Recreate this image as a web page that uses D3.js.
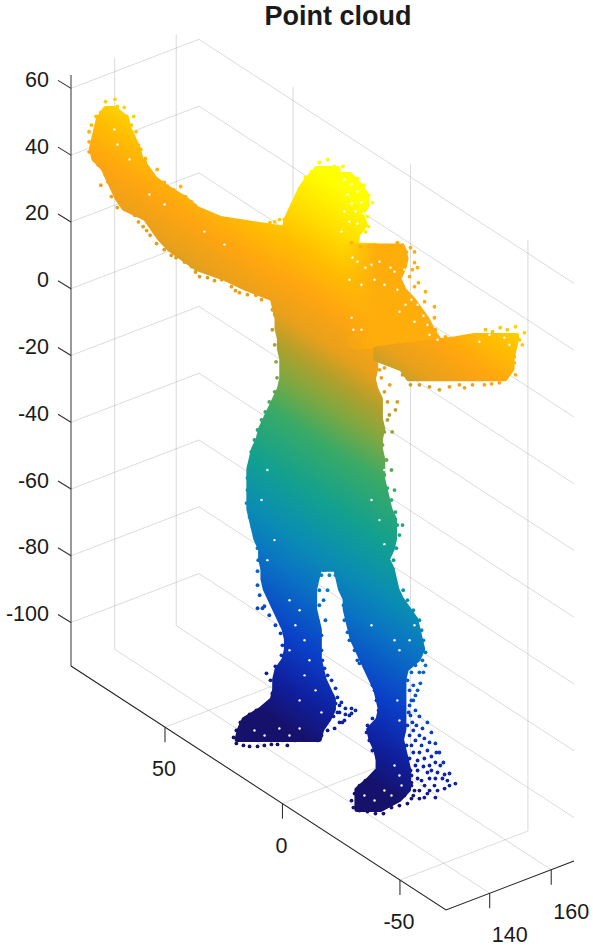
<!DOCTYPE html>
<html><head><meta charset="utf-8">
<script src="https://cdn.jsdelivr.net/npm/d3@7"></script>
<style>html,body{margin:0;background:#fff}svg{display:block}text{font-family:"Liberation Sans",Arial,sans-serif;fill:#1a1a1a}</style>
</head><body><svg id="c" width="593" height="947"></svg>
<script>
// ---------- axis values ----------
const zTicks=[60,40,20,0,-20,-40,-60,-80,-100];
const yTicks=[50,0,-50];
const xTicks=[140,160];
const titleText="Point cloud";
const colorZ=[-113,-100,-85,-66,-54,-38,-20,-8,1,10,22,35,45,60];
const colorHex=["#16116a","#0f1f9e","#0a3fc8","#0a72c4","#0a8cb4","#12a090","#3aaa66","#80a840","#b0a02c","#e8a01c","#ffa510","#ffc000","#ffdc00","#ffff00"];
// ---------- silhouette bands: [z reading, y from, y to] ----------
const leftHandBands=[[54,107,103],[51,110,98],[48,111,97],[45,112,95],[42,113,93],[39,112,92],[36,108,89],[33,106,86]];
const leftArmBands=[[33,106,86],[30,104,80],[27,102,73],[24,99,68],[21,90,58],[18,87,30],[15,84,29],[12,80,29],[9,74,29],[6,68,29],[3,56,29],[0,47,29],[-3,36,29]];
const headBands=[[36,17,8],[33,21,8],[30,24,8],[27,26,8],[24,28,8],[21,30,8],[18,31,8],[15,31,7],[13,31,7]];
const headSideBands=[[34.2,8,3],[31.2,8,-1],[28.2,8,-4],[25.2,8,-4.5],[22.2,8,-2],[19.2,8,-3.6],[16.2,8,-0.2],[13,8,0]];
const torsoBands=[[13,31,-8],[12,31,-8],[9,32,-8],[6,32,-8],[3,32,-8],[0,32,-8],[-3,36,-8],[-6,35,-8],[-9,34,-8],[-12,34,-8],[-15,33,-8],[-18,33,-8],[-21,32,-8],[-24,32,-8],[-27,32,-7],[-30,33,-8],[-33,35,-10],[-36,37,-10],[-39,39,-10],[-42,41,-11],[-45,42,-10],[-48,44,-10],[-51,45,-11],[-54,46,-11],[-57,46,-11],[-60,46,-12],[-63,46,-13],[-66,46,-14],[-69,45,-16],[-72,44,-16],[-75,43,-16],[-78,41,-15],[-81,41,-13],[-84,40,-15]];
const shoulderBands=[[13.5,6,-20],[12,6,-21],[9,6,-22],[6,6,-21],[3,6,-19],[0,6,-21],[-3,6,-25],[-6,6,-28],[-9,6,-31],[-12,6,-33],[-15,6,-36],[-18,6,-42]];
const rightArmBands=[[-14,-50,-68],[-15,-42,-68],[-18,-8,-67],[-21,-8,-66],[-24,-19,-66],[-27,-22,-63]];
const leftLegBands=[[-84,40,16],[-87,40,17],[-90,39,18],[-93,37,18],[-96,35,18],[-99,33,17],[-102,31,16],[-105,30,16],[-108,30,16],[-111,31,16],[-114,34,15],[-117,35,14],[-120,35,12],[-123,36,10],[-126,41,10],[-129,48,12],[-132,50,15],[-135,51,16]];
const rightLegBands=[[-84,9,-15],[-87,8,-16],[-90,7,-17],[-93,5,-19],[-96,5,-22],[-99,4,-25],[-102,3,-26],[-105,2,-27],[-108,0,-28],[-111,-2,-26],[-114,-4,-21],[-117,-6,-20],[-120,-8,-20],[-123,-9,-20],[-126,-10,-20],[-129,-9,-20],[-132,-5,-20],[-135,-6,-19],[-138,-8,-20],[-141,-9,-21],[-144,-9,-22],[-147,-5,-22],[-150,0,-22],[-153,0,-18],[-156,0,-10]];
// ---------- outlying points: [y, z reading] ----------
const leftHandDots=[[107,56],[103,56.7],[102,54.6],[99,54.3],[98,51.6],[95,51.6],[96,49],[94,47],[92,41.7],[90,38],[89,35.7],[85,35.7],[109,52.8],[111,51.6],[113,49],[114,47],[114,44],[114,41],[112,38.7],[107,34],[109,31],[105,54],[110,51],[101,51],[96,45],[93,43],[90,39],[93,40],[110,37],[106,32],[104,30]];
const leftArmDots=[[82,31.8],[80,29.7],[78,29.7],[73,27.6],[70.4,26],[67,23],[64,22],[59,20.7],[54,19.8],[51,18.3],[46.6,18.6],[42,18.6],[37,19.8],[33,20.7],[31,20.7],[75,30.6],[69,25],[61.5,21],[56,19],[49,17.7],[44.5,19],[40,19],[35,20],[104.5,27.6],[102,24.3],[97.6,23.7],[93,20],[91,18.6],[88,16],[84,15.6],[82,11.7],[79,10],[73.4,8],[70.4,6.6],[67,3.6],[63.6,3.3],[57.6,2.7],[53.4,0.6],[50,-1.2],[46.6,-1.8],[43,-2],[36,-6.3],[99.3,25.8],[94.6,22],[89.5,17.4],[85.3,13.5],[77,9.3],[68.7,5],[60.6,2.4],[51.7,-0.6],[40.6,-3.3]];
const headDots=[[12.5,38.7],[16,37.8],[17.6,36],[9.6,36.6],[6,36.6],[4,34],[-0.2,33],[-3,31],[2,30],[-5,28],[-6.6,25.8],[-1.5,27.6],[7,30],[3,26.7],[-0.2,24.6],[-4.5,21.6],[-5,18.6],[-1.5,17],[2,16.8],[6,23.7],[0.6,20.7],[-2.4,19],[2.7,18.6],[4.9,21],[7,17.7],[24,29.7],[26,26.7],[28.3,23],[30,20],[22,33.3],[19.4,35],[5,31.8],[8,33],[3,29],[6,27],[0.6,26],[-3,25],[4,24],[2.4,22],[-1.9,23],[5,19],[0.6,17.7],[-3.7,17],[7.4,15.6],[4,15.3],[6.5,21],[7.4,25]];
const shoulderDots=[[-1.5,12.6],[-5,12.6],[-9.6,12.3],[-11.7,10.8],[-15,9.6],[-19.4,12.6],[-22.8,12.3],[-24.5,11],[-24.5,7.8],[-23.6,5.7],[-22.4,3.6],[-26.2,1.8],[-24.5,0.6],[-29.2,-0.9],[-28.8,-3.9],[-33,-5.4],[-33,-8.7],[-33.4,-12.3],[-37.7,-14.4],[-40.7,-16.2],[-43.6,-16.8],[2.3,13.8],[-17.2,11.7],[-21,11],[-17.2,13.8],[-25.8,6.3]];
const rightArmDots=[[-46.2,-14.7],[-49.2,-14.4],[-54.7,-12.3],[-57.7,-12.9],[-61,-11.7],[-67.5,-11.4],[-71.3,-13.2],[-69.2,-15.3],[-70.4,-16.8],[-67,-20.4],[-67,-22.2],[-67.5,-25.8],[-63.2,-26.4],[-60.6,-28.2],[-49.2,-28.8],[-39.4,-29.4],[-35.1,-30.3],[-30.9,-29.4],[-26.6,-28.8],[-22.8,-28.8],[-19.4,-25.8],[-51.3,-13.8],[-64,-12.3],[-65.8,-13.8],[-43.6,-28.8],[-54.3,-28.8],[-57.3,-28.5],[-45.8,-29.7],[-65.8,-24.3],[-67,-18.3]];
const torsoDots=[[-7.8,-22.8],[-9.6,-24.3],[-11.7,-23.7],[-10.4,-26.7],[-14,-28.8],[-11.7,-30.9],[-13,-33.9],[-17.2,-33.9],[-16.4,-36.3],[-13,-39.3],[-11.7,-42.9],[-10.9,-46.8],[-12.6,-51.3],[-11.7,-55.8],[-13,-59.7],[-14.7,-63.3],[-16.4,-66.9],[-17.2,-70.8],[-18.1,-73.8],[-16.8,-77.7],[-15.6,-81.3],[-14.7,-84.9],[-15,-42.9],[-13.8,-37.8],[-14.7,-54.3],[-16,-60.3],[-19.4,-70.8],[35,-7.8],[36,-12.3],[35,-16.8],[34.4,-21.9],[34,-26.7],[35,-30.9],[37.3,-33.9],[39,-36.9],[40.6,-39.3],[42.3,-42.3],[43.6,-45.3],[45,-48.9],[45.7,-52.8],[46.6,-56.7],[46.6,-60.3],[47,-64.2],[45.7,-68.4],[44.4,-71.4],[43.2,-74.4],[42.3,-77.7],[42,-81.3],[42.3,-84.6]];
const leftLegDots=[[42.3,-88.8],[41.4,-91.8],[40.2,-95.7],[42.3,-95.7],[39.4,-95.1],[37.3,-97.8],[34.7,-100.8],[32.5,-103.2],[31.7,-106.8],[32.1,-109.8],[34.7,-113.1],[38.5,-115.2],[36.8,-117.3],[36,-121.2],[35,-123.3],[38,-125],[42.8,-126.3],[45.7,-127.5],[47.5,-128.7],[49.6,-129.9],[51.3,-132.3],[52.5,-134.4],[51.3,-136.2],[48.3,-136.8],[45.7,-137.1],[42.3,-137.1],[39.4,-136.8],[36.4,-136.5],[33.8,-136.5],[31.7,-135.3],[29.6,-136.8],[26.2,-135.3],[22.7,-134.7],[19.3,-133.8],[16.8,-83.1],[15.1,-85.8],[16,-90.3],[16,-94.8],[16.8,-99.3],[15.1,-103.8],[15.1,-108.3],[14.7,-111.3],[13.8,-113.7],[12.5,-115.8],[10.8,-117.3],[9.1,-119.7],[8.3,-122.4],[7.4,-124.8],[4.9,-125.7],[2.3,-125.7],[0.6,-126.3],[3.2,-127.8],[5.3,-129.3],[7.4,-129.9],[9.5,-131.7],[12.5,-132.3],[15.1,-133.8],[16.8,-135.3],[7.4,-126.9],[10.4,-123.3],[13.8,-84.3],[11.7,-85.8],[12.5,-90.3],[14.2,-93.3],[13.4,-99.3],[7.4,-88.8],[9.1,-85.8],[12.5,-120.3],[10.4,-121.8],[13.4,-123.3],[9.1,-124.2],[11.7,-125.7],[6.6,-123.9],[8.3,-126.9],[4.9,-127.5],[10,-128.1],[12.5,-128.7],[6.2,-129.9],[2.3,-127.2],[13.8,-130.8]];
const rightLegDots=[[7.4,-85.8],[6.6,-90.3],[5.7,-94.8],[5.3,-99.3],[4,-102.9],[3.2,-105.3],[1,-108.3],[-0.2,-111.3],[-1.1,-112.2],[-3.6,-113.7],[-5.8,-116.4],[-6.6,-118.8],[-7.5,-120.3],[-8.3,-123.3],[-9.2,-126.3],[-6.6,-128.7],[-4.5,-130.8],[-4.1,-132.9],[-5.3,-135.3],[-6.6,-138.3],[-8.7,-140.7],[-10,-143.4],[-7.5,-145.2],[-3.6,-147.3],[-1.1,-148.8],[1,-151.2],[2.3,-153.3],[1.5,-155.4],[-1.1,-156.3],[-4.5,-156.6],[-7.9,-157.2],[-11.3,-157.2],[-14.7,-155.4],[-18.1,-154.8],[-21.5,-154.2],[-23.2,-152.7],[-19.7,-90.3],[-21.5,-93.3],[-24,-96.3],[-26.6,-99.3],[-27.5,-102.3],[-28.3,-105.3],[-29.2,-108.9],[-29.2,-112.8],[-28.3,-114.9],[-27,-118.2],[-24.9,-121.8],[-23.2,-123.3],[-22.4,-124.8],[-24.9,-126.3],[-26.6,-128.1],[-30,-129.9],[-31.7,-132.9],[-33.4,-136.2],[-35.1,-138.9],[-36.8,-141.9],[-34.3,-144.9],[-37.3,-145.5],[-39.4,-145.2],[-41.9,-148.2],[-39.4,-148.8],[-37.3,-149.7],[-33.4,-152.4],[-30,-151.2],[-26.6,-152.7],[-24.5,-150.3],[-27.5,-147.3],[-30.9,-146.7],[-23.2,-145.8],[-25.8,-141.3],[-23.2,-136.8],[-27.5,-136.8],[-30,-138.3],[-24,-132.3],[-26.6,-133.8],[-21.5,-130.8],[-22.8,-127.8],[-31.7,-144.3],[-21.5,-150.3],[-23.2,-148.8],[-28.8,-148.8],[-33,-148.8],[-25.8,-144.3],[-22.4,-120.3],[-24,-123.3],[-22,-126.9],[-23.6,-129.9],[-25.3,-130.8],[-27.9,-131.7],[-22.4,-133.8],[-24.9,-135.3],[-21.1,-136.8],[-28.7,-134.7],[-30.9,-135.9],[-26.6,-138.9],[-24,-138.9],[-22.4,-140.7],[-28.7,-140.7],[-31.7,-140.1],[-33.8,-138.9],[-24.9,-142.8],[-28.3,-143.1],[-22.8,-144.3],[-30.9,-142.8],[-33.4,-141.9],[-35.5,-142.8],[-30,-144.9],[-25.8,-146.7],[-23.2,-147.9],[-33.4,-146.7],[-36.4,-146.7],[-38.5,-147.3],[-34.3,-150.3],[-30.9,-150.3],[-26.6,-150.3],[-24,-151.8],[-20.2,-151.8],[-28.7,-152.4],[-21.5,-117.3],[-23.2,-114.9],[-24.9,-112.8],[-26.6,-114.9],[-24,-118.8],[-22.4,-112.2],[-25.8,-109.8],[-27.9,-111.3],[-25.8,-120.3]];
// small white gaps seen inside the cloud: [y, z reading]
const gapDots=[[5.3,32.7],[2.3,31.2],[4,28.2],[-0.2,29.1],[-1.9,25.8],[2.3,25.5],[5.3,23.1],[0.6,23.1],[3.2,20.1],[6.6,17.1],[-0.2,19.5],[-2.8,22.5],[1.9,9.3],[-0.2,8.1],[-3.6,6.3],[-6.2,7.2],[-7.5,2.7],[3.2,2.7],[-1.9,1.2],[-9.6,8.1],[-14.3,6.3],[-16,5.1],[-11.7,1.2],[-17.2,-0.3],[-20.2,5.7],[-23.2,-3.3],[-20.7,-4.8],[-18.1,-6.9],[-25.8,-4.8],[-28.3,-8.1],[-24.5,-9.9],[-30,-10.8],[-30.9,-13.8],[-34.3,-15.3],[2.3,-8.7],[-1.9,-12.3],[1.5,-12.3],[28.7,-93.3],[24.4,-96.3],[26.2,-100.8],[22.3,-105.3],[28.7,-108.3],[20.2,-111.3],[22.3,-115.8],[17.6,-120.3],[24.4,-123.3],[15.1,-126.9],[28.7,-133.8],[24.4,-131.7],[33,-131.7],[39.3,-133.8],[43.6,-132.3],[-6.2,-100.8],[-16,-105.3],[-18.1,-108.3],[-22.4,-105.3],[-24.5,-100.8],[-17.2,-123.3],[-18.1,-129.3],[-16,-142.8],[-18.1,-145.8],[-11.7,-150.3],[-7.5,-153.3],[-3.2,-151.8],[-14.7,-151.8],[-19,-148.8],[40.6,-63.3],[38.1,-54.3],[-11.7,-54.3],[-6.2,-63.3],[-9.6,-69.3],[-11.7,-76.5],[38.1,-81.3],[35.1,-75.3],[88.3,28.2],[81.9,25.2],[64.9,17.1],[56.4,13.2],[96.8,38.7],[103.2,47.7],[101.9,43.2],[-56.4,-13.8],[-52.1,-15.9],[-62.8,-14.7],[-64.9,-16.8]];

// ---------- projection through linear scales ----------
const yDomain=[90,-69.6], xDomain=[125.8,167.4], zDomain=[-113,64];
const yAcross=d3.scaleLinear(yDomain,[0,375]), yDrop=d3.scaleLinear(yDomain,[0,244]);
const xAcross=d3.scaleLinear(xDomain,[0,128]), xDrop=d3.scaleLinear(xDomain,[0,-49]);
const zPos=d3.scaleLinear(zDomain,[666,75]);
const corner=71, plane=150;
const proj=(x,y,z)=>[corner+yAcross(y)+xAcross(x), zPos(z)+yDrop(y)+xDrop(x)];
const bodyX=y=>corner+yAcross(y)+xAcross(plane);
const tilt=0.4566, bias=-8.5;
const trueZ=(y,zr)=>zr+bias+tilt*(yDomain[0]-y);
const color=d3.scaleLinear(colorZ,colorHex).clamp(true).interpolate(d3.interpolateRgb);

const svg=d3.select("#c");
const defs=svg.append("defs");
const gridG=svg.append("g").attr("fill","none").attr("stroke","#8f8f8f").attr("stroke-opacity",.32).attr("stroke-width",1);
const line=d3.line();
const [xa,xb]=xDomain,[ya,yb]=yDomain,[za,zb]=zDomain;
zTicks.forEach(z=>gridG.append("path").attr("d",line([proj(xa,ya,z),proj(xb,ya,z),proj(xb,yb,z)])));
yTicks.forEach(y=>gridG.append("path").attr("d",line([proj(xa,y,za),proj(xb,y,za),proj(xb,y,zb)])));
xTicks.forEach(x=>gridG.append("path").attr("d",line([proj(x,yb,za),proj(x,ya,za),proj(x,ya,zb)])));

const axisG=svg.append("g").attr("fill","none");
axisG.append("path").attr("d",line([proj(xa,ya,za),proj(xa,ya,zb)])).attr("stroke","#555").attr("stroke-width",1.2);
axisG.append("path").attr("d",line([proj(xa,ya,za),proj(xa,yb,za),proj(xb,yb,za)])).attr("stroke","#222").attr("stroke-width",1.1);
const lab=svg.append("g").attr("font-size",21.5);
zTicks.forEach(z=>{const p=proj(xa,ya,z);
  axisG.append("path").attr("d",line([p,[p[0]-13,p[1]-8]])).attr("stroke","#333").attr("stroke-width",1.1);
  lab.append("text").attr("x",p[0]-22).attr("y",p[1]-1.5).attr("text-anchor","end").text(z);});
yTicks.forEach(y=>{const p=proj(xa,y,za);
  axisG.append("path").attr("d",line([p,[p[0],p[1]+15]])).attr("stroke","#333").attr("stroke-width",1.1);
  lab.append("text").attr("x",p[0]-1).attr("y",p[1]+49).attr("text-anchor","middle").text(y);});
xTicks.forEach(x=>{const p=proj(x,yb,za);
  axisG.append("path").attr("d",line([p,[p[0],p[1]+15]])).attr("stroke","#333").attr("stroke-width",1.1);
  lab.append("text").attr("x",p[0]+20).attr("y",p[1]+49).attr("text-anchor","middle").text(x);});
svg.append("text").attr("x",338).attr("y",25).attr("text-anchor","middle").attr("font-size",27).attr("font-weight","bold").attr("fill","#000").text(titleText);

const pxY=Math.abs(yAcross(1)-yAcross(0)), pxZ=Math.abs(zPos(1)-zPos(0));
const gx=tilt/pxY, gy=-1/pxZ, g2=gx*gx+gy*gy;
const base=[bodyX(yDomain[0]),zPos(zDomain[0]-bias)];
function pointAt(t){const k=(t-zDomain[0])/g2;return [base[0]+gx*k,base[1]+gy*k];}
function makeGradient(id,dz){
  const lo=colorZ[0],hi=colorZ[colorZ.length-1];
  const a=pointAt(lo-dz),b=pointAt(hi-dz);
  const gr=defs.append("linearGradient").attr("id",id).attr("gradientUnits","userSpaceOnUse")
    .attr("x1",a[0]).attr("y1",a[1]).attr("x2",b[0]).attr("y2",b[1]);
  colorZ.forEach((z,i)=>gr.append("stop").attr("offset",(z-lo)/(hi-lo)).attr("stop-color",colorHex[i]));
  return `url(#${id})`;
}
const shoulderZ=26;
const fade=defs.append("linearGradient").attr("id","fade").attr("gradientUnits","userSpaceOnUse")
  .attr("x1",bodyX(6)).attr("x2",bodyX(-8)).attr("y1",0).attr("y2",0);
fade.append("stop").attr("offset",0).attr("stop-color",color(shoulderZ)).attr("stop-opacity",0);
fade.append("stop").attr("offset",1).attr("stop-color",color(shoulderZ)).attr("stop-opacity",1);

const parts=[
 {id:"lh",bands:leftHandBands,dots:leftHandDots,dz:1},
 {id:"la",bands:leftArmBands,dots:leftArmDots,dz:1},
 {id:"to",bands:torsoBands,dots:torsoDots,dz:0},
 {id:"hs",bands:headSideBands,dots:[],dz:0},
 {id:"sh",bands:shoulderBands,dots:shoulderDots,flat:shoulderZ},
 {id:"ra",bands:rightArmBands,dots:rightArmDots,dz:-10},
 {id:"he",bands:headBands,dots:headDots,dz:0},
 {id:"ll",bands:leftLegBands,dots:leftLegDots,dz:0},
 {id:"rl",bands:rightLegBands,dots:rightLegDots,dz:0}
];
const area=d3.area().y(d=>zPos(d[0])).x0(d=>bodyX(d[1])).x1(d=>bodyX(d[2]));
const cloud=svg.append("g");
parts.forEach(p=>{
  const fill=p.flat!==undefined?"url(#fade)":makeGradient("g"+p.id,p.dz);
  cloud.append("path").attr("d",area(p.bands)).attr("fill",fill)
    .attr("stroke",p.flat!==undefined?"none":fill).attr("stroke-width",5).attr("stroke-linejoin","round");
});
parts.forEach(p=>{
  cloud.append("g").selectAll("circle").data(p.dots).join("circle")
    .attr("cx",d=>bodyX(d[0])).attr("cy",d=>zPos(d[1])).attr("r",1.9)
    .attr("fill",d=>color(p.flat!==undefined?p.flat:trueZ(d[0],d[1])+p.dz));
});
cloud.append("g").selectAll("circle").data(gapDots).join("circle")
  .attr("cx",d=>bodyX(d[0])).attr("cy",d=>zPos(d[1])).attr("r",1.2).attr("fill","#fff");
</script></body></html>
